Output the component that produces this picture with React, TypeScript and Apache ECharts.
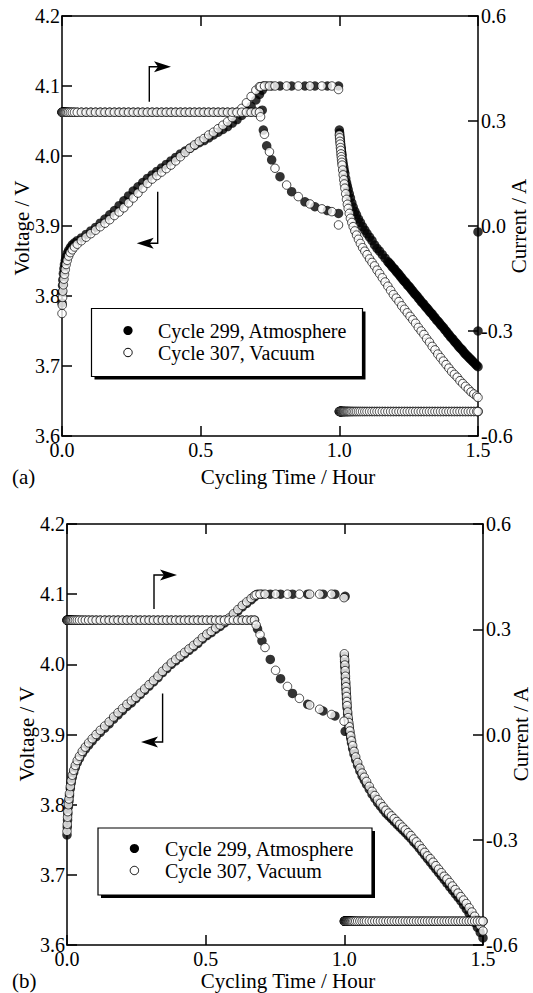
import React, { useEffect, useRef } from "react";
import * as echarts from "echarts";

// ---------- Panel (a) ----------
const tChargeA = [0,0.001,0.002,0.003,0.005,0.007,0.009,0.012,0.015,0.019,0.024,0.03,0.037,0.045,0.055,0.07,0.087,0.104,0.121,0.138,0.155,0.172,0.189,0.206,0.223,0.24,0.257,0.274,0.291,0.308,0.325,0.342,0.359,0.376,0.393,0.41,0.427,0.444,0.461,0.478,0.495,0.512,0.529,0.546,0.563,0.58,0.597,0.614,0.631,0.648,0.665,0.682,0.699,0.712];
const vChargeVacA = [3.775,3.787,3.798,3.807,3.816,3.824,3.831,3.838,3.845,3.851,3.857,3.862,3.866,3.870,3.874,3.879,3.884,3.889,3.894,3.899,3.904,3.909,3.915,3.920,3.926,3.933,3.940,3.947,3.954,3.961,3.967,3.972,3.977,3.982,3.987,3.993,3.999,4.005,4.011,4.016,4.021,4.025,4.030,4.034,4.039,4.044,4.049,4.055,4.061,4.068,4.076,4.085,4.094,4.099];
const vChargeAtmA = [3.79,3.805,3.815,3.823,3.832,3.839,3.845,3.851,3.856,3.861,3.865,3.869,3.873,3.876,3.879,3.883,3.888,3.893,3.898,3.904,3.910,3.916,3.922,3.929,3.936,3.943,3.950,3.956,3.962,3.968,3.973,3.978,3.983,3.988,3.993,3.998,4.003,4.007,4.011,4.015,4.019,4.022,4.026,4.030,4.034,4.038,4.042,4.047,4.052,4.058,4.064,4.071,4.080,4.088];
const iChargeA = [0.325,0.325,0.325,0.325,0.325,0.325,0.325,0.325,0.325,0.325,0.325,0.325,0.325,0.325,0.325,0.325,0.325,0.325,0.325,0.325,0.325,0.325,0.325,0.325,0.325,0.325,0.325,0.325,0.325,0.325,0.325,0.325,0.325,0.325,0.325,0.325,0.325,0.325,0.325,0.325,0.325,0.325,0.325,0.325,0.325,0.325,0.325,0.325,0.325,0.325,0.325,0.325,0.325,0.325];

const tCvVacA = [0.716,0.73,0.748,0.768,0.81,0.852,0.894,0.937,0.973,0.997];
const vCvVacA = [4.099,4.1,4.1,4.1,4.1,4.1,4.1,4.1,4.1,4.095];
const iCvVacA = [0.312,0.262,0.212,0.165,0.117,0.084,0.063,0.049,0.041,0.003];
const tCvAtmA = [0.722,0.726,0.738,0.756,0.786,0.828,0.876,0.912,0.957,0.997];
const vCvAtmA = [4.094,4.1,4.1,4.1,4.1,4.1,4.1,4.1,4.1,4.1];
const iCvAtmA = [0.331,0.274,0.229,0.189,0.141,0.098,0.069,0.055,0.044,0.036];

const tDisA = [1.000,1.001,1.002,1.003,1.004,1.005,1.006,1.007,1.008,1.009,
  1.010,1.012,1.014,1.016,1.018,1.020,1.023,1.026,1.029,1.032,
  1.036,1.040,1.045,1.050,1.056,1.062,1.069,1.076,1.084,1.092,
  1.100,1.109,1.118,1.127,1.136,1.145,1.155,1.165,1.175,1.185,
  1.195,1.205,1.215,1.225,1.235,1.245,1.255,1.265,1.275,1.285,
  1.295,1.305,1.315,1.325,1.335,1.345,1.355,1.365,1.375,1.385,
  1.395,1.405,1.415,1.425,1.435,1.445,1.455,1.465,1.475,1.485,
  1.495,1.500];
const vDisVacA = [4.030,4.026,4.021,4.017,4.012,4.008,4.003,3.999,3.995,3.991,
  3.987,3.980,3.973,3.966,3.960,3.954,3.946,3.938,3.931,3.925,
  3.918,3.911,3.905,3.899,3.893,3.887,3.881,3.875,3.869,3.864,
  3.859,3.853,3.848,3.843,3.837,3.832,3.826,3.820,3.814,3.808,
  3.802,3.797,3.792,3.786,3.781,3.776,3.771,3.766,3.761,3.755,
  3.750,3.745,3.739,3.734,3.728,3.723,3.717,3.712,3.707,3.702,
  3.697,3.692,3.688,3.684,3.679,3.675,3.671,3.667,3.663,3.660,
  3.657,3.655];
const iDisA = [-0.53,-0.53,-0.53,-0.53,-0.53,-0.53,-0.53,-0.53,-0.53,-0.53,
  -0.53,-0.53,-0.53,-0.53,-0.53,-0.53,-0.53,-0.53,-0.53,-0.53,
  -0.53,-0.53,-0.53,-0.53,-0.53,-0.53,-0.53,-0.53,-0.53,-0.53,
  -0.53,-0.53,-0.53,-0.53,-0.53,-0.53,-0.53,-0.53,-0.53,-0.53,
  -0.53,-0.53,-0.53,-0.53,-0.53,-0.53,-0.53,-0.53,-0.53,-0.53,
  -0.53,-0.53,-0.53,-0.53,-0.53,-0.53,-0.53,-0.53,-0.53,-0.53,
  -0.53,-0.53,-0.53,-0.53,-0.53,-0.53,-0.53,-0.53,-0.53,-0.53,
  -0.53,-0.53];
// Atmosphere discharge voltage (denser records, drawn as a solid band)
const tDisAtmA = [1.000,1.001,1.002,1.003,1.004,1.005,1.006,1.007,1.008,1.009,
  1.010,1.012,1.014,1.016,1.018,1.020,1.023,1.026,1.029,1.032,
  1.036,1.040,1.045,1.050,1.056,1.062,1.069,1.076,1.084,1.092,
  1.100,1.109,1.118,1.127,1.136,1.145,1.155,1.165,1.175,
  1.180,1.185,1.190,1.195,1.200,1.205,1.210,1.215,1.220,1.225,
  1.230,1.235,1.240,1.245,1.250,1.255,1.260,1.265,1.270,1.275,
  1.280,1.285,1.290,1.295,1.300,1.305,1.310,1.315,1.320,1.325,
  1.330,1.335,1.340,1.345,1.350,1.355,1.360,1.365,1.370,1.375,
  1.380,1.385,1.390,1.395,1.400,1.405,1.410,1.415,1.420,1.425,
  1.430,1.435,1.440,1.445,1.450,1.455,1.460,1.465,1.470,1.475,
  1.480,1.485,1.490,1.495,1.500];
const vDisAtmA = [4.037,4.033,4.029,4.025,4.021,4.017,4.013,4.010,4.006,4.003,
  4.000,3.994,3.989,3.984,3.979,3.975,3.968,3.962,3.957,3.952,
  3.946,3.940,3.933,3.927,3.921,3.916,3.910,3.905,3.899,3.894,
  3.889,3.884,3.879,3.873,3.868,3.864,3.859,3.854,3.849,
  3.847,3.845,3.842,3.840,3.838,3.835,3.833,3.831,3.828,3.826,
  3.823,3.821,3.819,3.816,3.814,3.812,3.809,3.807,3.804,3.802,
  3.800,3.797,3.795,3.792,3.790,3.788,3.785,3.783,3.781,3.778,
  3.776,3.774,3.771,3.769,3.766,3.764,3.762,3.759,3.757,3.755,
  3.752,3.750,3.747,3.745,3.742,3.740,3.738,3.735,3.733,3.731,
  3.728,3.726,3.724,3.722,3.719,3.717,3.715,3.713,3.711,3.709,
  3.707,3.705,3.703,3.701,3.699];
const strayTimesA = [1.5, 1.5];
const strayCurrentsA = [-0.017, -0.3];

// ---------- Panel (b) ----------
const tChargeB = [0,0.001,0.002,0.003,0.005,0.007,0.009,0.012,0.015,0.019,0.024,0.03,0.037,0.045,0.055,0.066,0.078,0.091,0.105,0.12,0.136,0.152,0.168,0.184,0.2,0.216,0.232,0.248,0.264,0.28,0.296,0.312,0.328,0.344,0.36,0.376,0.392,0.408,0.424,0.44,0.456,0.472,0.488,0.504,0.52,0.536,0.552,0.568,0.584,0.6,0.616,0.632,0.648,0.664,0.676];
const vChargeVacB = [3.762,3.772,3.782,3.790,3.800,3.808,3.816,3.826,3.834,3.842,3.849,3.856,3.863,3.869,3.876,3.882,3.888,3.894,3.900,3.906,3.912,3.918,3.925,3.931,3.937,3.943,3.948,3.953,3.959,3.965,3.971,3.977,3.983,3.990,3.996,4.002,4.007,4.012,4.017,4.022,4.027,4.032,4.038,4.043,4.047,4.052,4.056,4.061,4.066,4.072,4.078,4.084,4.089,4.094,4.098];
const vChargeAtmB = [3.757,3.768,3.778,3.787,3.797,3.805,3.813,3.823,3.831,3.839,3.846,3.853,3.860,3.866,3.873,3.879,3.885,3.891,3.897,3.903,3.909,3.915,3.922,3.928,3.934,3.940,3.945,3.951,3.957,3.963,3.969,3.975,3.981,3.988,3.994,4.000,4.005,4.010,4.015,4.020,4.025,4.030,4.036,4.041,4.045,4.050,4.054,4.059,4.064,4.070,4.076,4.082,4.087,4.092,4.096];
const iChargeB = [0.326,0.326,0.326,0.326,0.326,0.326,0.326,0.326,0.326,0.326,0.326,0.326,0.326,0.326,0.326,0.326,0.326,0.326,0.326,0.326,0.326,0.326,0.326,0.326,0.326,0.326,0.326,0.326,0.326,0.326,0.326,0.326,0.326,0.326,0.326,0.326,0.326,0.326,0.326,0.326,0.326,0.326,0.326,0.326,0.326,0.326,0.326,0.326,0.326,0.326,0.326,0.326,0.326,0.326,0.326];

const tCvVacB = [0.682,0.696,0.714,0.752,0.795,0.838,0.875,0.911,0.954,0.999];
const vCvVacB = [4.099,4.1,4.1,4.1,4.1,4.1,4.1,4.1,4.1,4.095];
const iCvVacB = [0.312,0.285,0.248,0.183,0.137,0.103,0.084,0.072,0.057,0.038];
const tCvAtmB = [0.687,0.703,0.733,0.77,0.813,0.868,0.923,0.966,1.003];
const vCvAtmB = [4.1,4.1,4.1,4.1,4.1,4.1,4.1,4.1,4.097];
const iCvAtmB = [0.301,0.267,0.214,0.159,0.117,0.086,0.067,0.053,0.009];

const tDisB = [1.000,1.001,1.002,1.003,1.004,1.005,1.006,1.007,1.008,1.009,
  1.010,1.012,1.014,1.016,1.018,1.020,1.023,1.026,1.030,1.035,
  1.041,1.048,1.056,1.064,1.072,1.080,1.090,1.100,1.110,1.120,
  1.130,1.140,1.150,1.160,1.170,1.180,1.190,1.200,1.210,1.220,
  1.230,1.240,1.250,1.260,1.270,1.280,1.290,1.300,1.310,1.320,
  1.330,1.340,1.350,1.360,1.370,1.380,1.390,1.400,1.410,1.420,
  1.430,1.440,1.450,1.460,1.470,1.480,1.490,1.500];
const vDisVacB = [4.015,4.007,3.999,3.991,3.983,3.975,3.968,3.961,3.954,3.947,
  3.941,3.932,3.924,3.917,3.911,3.905,3.898,3.891,3.884,3.876,
  3.868,3.860,3.852,3.845,3.839,3.833,3.826,3.819,3.813,3.807,
  3.802,3.797,3.792,3.788,3.784,3.780,3.776,3.772,3.768,3.764,
  3.760,3.756,3.751,3.747,3.742,3.737,3.732,3.727,3.723,3.718,
  3.713,3.708,3.703,3.698,3.694,3.689,3.684,3.679,3.674,3.669,
  3.664,3.659,3.653,3.647,3.641,3.635,3.628,3.620];
const vDisAtmB = [4.012,4.004,3.996,3.988,3.980,3.972,3.965,3.958,3.951,3.944,
  3.938,3.929,3.921,3.914,3.908,3.902,3.895,3.888,3.880,3.872,
  3.864,3.856,3.848,3.841,3.835,3.829,3.822,3.815,3.809,3.803,
  3.798,3.793,3.788,3.784,3.780,3.776,3.772,3.768,3.764,3.760,
  3.756,3.752,3.747,3.743,3.738,3.733,3.728,3.723,3.718,3.713,
  3.708,3.703,3.698,3.693,3.688,3.683,3.678,3.673,3.668,3.663,
  3.657,3.651,3.645,3.639,3.632,3.625,3.618,3.610];
const iDisB = [-0.532,-0.532,-0.532,-0.532,-0.532,-0.532,-0.532,-0.532,-0.532,-0.532,
  -0.532,-0.532,-0.532,-0.532,-0.532,-0.532,-0.532,-0.532,-0.532,-0.532,
  -0.532,-0.532,-0.532,-0.532,-0.532,-0.532,-0.532,-0.532,-0.532,-0.532,
  -0.532,-0.532,-0.532,-0.532,-0.532,-0.532,-0.532,-0.532,-0.532,-0.532,
  -0.532,-0.532,-0.532,-0.532,-0.532,-0.532,-0.532,-0.532,-0.532,-0.532,
  -0.532,-0.532,-0.532,-0.532,-0.532,-0.532,-0.532,-0.532,-0.532,-0.532,
  -0.532,-0.532,-0.532,-0.532,-0.532,-0.532,-0.532,-0.532];

const legendLabels = ["Cycle 299, Atmosphere", "Cycle 307, Vacuum"];
const xTitle = "Cycling Time / Hour";
const yLeftTitle = "Voltage / V";
const yRightTitle = "Current / A";
const panelTags = ["(a)", "(b)"];

const FONT = '"Liberation Serif", "Times New Roman", serif';

function zip(t: number[], v: number[]) {
  return t.map((x, i) => [x, v[i]]);
}

const fmt = (v: number) => (Math.abs(v) < 1e-9 ? 0 : v).toFixed(1);

function axisBase(extra: any) {
  return {
    axisLine: { show: true, onZero: false, lineStyle: { color: "#000", width: 1.5 } },
    axisTick: { show: true, inside: true, length: 10, lineStyle: { color: "#000", width: 1.5 } },
    splitLine: { show: false },
    ...extra,
  };
}

function label(margin: number) {
  return {
    show: true,
    color: "#000",
    fontFamily: FONT,
    fontSize: 20,
    margin,
    formatter: fmt,
    showMinLabel: true,
    showMaxLabel: true,
  };
}

function arrowRight(x: number, yBottom: number, yTop: number, tipX: number) {
  return [
    { type: "polyline", shape: { points: [[x, yBottom], [x, yTop], [tipX - 10, yTop]] }, style: { stroke: "#000", lineWidth: 1.4, fill: null } },
    { type: "polygon", shape: { points: [[tipX, yTop], [tipX - 17, yTop - 5.5], [tipX - 13, yTop], [tipX - 17, yTop + 5.5]] }, style: { fill: "#000" } },
  ];
}
function arrowLeft(x: number, yTop: number, yBottom: number, tipX: number) {
  return [
    { type: "polyline", shape: { points: [[x, yTop], [x, yBottom], [tipX + 10, yBottom]] }, style: { stroke: "#000", lineWidth: 1.4, fill: null } },
    { type: "polygon", shape: { points: [[tipX, yBottom], [tipX + 17, yBottom - 5.5], [tipX + 13, yBottom], [tipX + 17, yBottom + 5.5]] }, style: { fill: "#000" } },
  ];
}

function txt(text: string, x: number, y: number, size: number, align: string, rotation = 0) {
  return {
    type: "text",
    x,
    y,
    rotation,
    style: {
      text,
      font: `${size}px ${FONT}`,
      fill: "#000",
      align,
      verticalAlign: "middle",
      textAlign: align,
      textVerticalAlign: "middle",
    },
  };
}

function legend(x: number, y: number, w: number, h: number, row1: number, row2: number, cx: number, tx: number) {
  return [
    { type: "rect", shape: { x: x + 3, y: y + 3, width: w, height: h }, style: { fill: "#000" } },
    { type: "rect", shape: { x, y, width: w, height: h }, style: { fill: "#fff", stroke: "#000", lineWidth: 1.2 } },
    { type: "circle", shape: { cx, cy: row1, r: 4.6 }, style: { fill: "#000" } },
    txt(legendLabels[0], tx, row1, 20, "left"),
    { type: "circle", shape: { cx, cy: row2, r: 4.2 }, style: { fill: "#fff", stroke: "#000", lineWidth: 1 } },
    txt(legendLabels[1], tx, row2, 20, "left"),
  ];
}

function scatter(xi: number, yi: number, data: number[][], filled: boolean) {
  return {
    type: "scatter",
    xAxisIndex: xi,
    yAxisIndex: yi,
    data,
    symbol: "circle",
    symbolSize: filled ? 9.5 : 8.5,
    clip: false,
    silent: true,
    z: filled ? 2 : 3,
    itemStyle: filled
      ? { color: "#000" }
      : { color: "#fff", borderColor: "#000", borderWidth: 0.9 },
  };
}

export default function App() {
  const ref = useRef<HTMLDivElement>(null);
  useEffect(() => {
    if (!ref.current) return;
    const chart = echarts.init(ref.current, null, { renderer: "svg" });

    const grids = [
      { left: 62, top: 16, width: 416, height: 420 },
      { left: 67, top: 524, width: 416, height: 421 },
    ];
    const xAxis: any[] = [];
    const yAxis: any[] = [];
    grids.forEach((_, g) => {
      xAxis.push(axisBase({ type: "value", gridIndex: g, min: 0, max: 1.5, interval: 0.5, position: "bottom", axisLabel: label(4) }));
      xAxis.push(axisBase({ type: "value", gridIndex: g, min: 0, max: 1.5, interval: 0.5, position: "top", axisLabel: { show: false } }));
      yAxis.push(axisBase({ type: "value", gridIndex: g, min: 3.6, max: 4.2, interval: 0.1, position: "left", axisLabel: label(2) }));
      yAxis.push(axisBase({ type: "value", gridIndex: g, min: -0.6, max: 0.6, interval: 0.3, position: "right", axisLabel: label(3) }));
    });

    const atmVA = [...zip(tChargeA, vChargeAtmA), ...zip(tCvAtmA, vCvAtmA), ...zip(tDisAtmA, vDisAtmA)];
    const atmIA = [...zip(tChargeA, iChargeA), ...zip(tCvAtmA, iCvAtmA), ...zip(tDisA, iDisA), ...zip(strayTimesA, strayCurrentsA)];
    const vacVA = [...zip(tChargeA, vChargeVacA), ...zip(tCvVacA, vCvVacA), ...zip(tDisA, vDisVacA)];
    const vacIA = [...zip(tChargeA, iChargeA), ...zip(tCvVacA, iCvVacA), ...zip(tDisA, iDisA)];

    const atmVB = [...zip(tChargeB, vChargeAtmB), ...zip(tCvAtmB, vCvAtmB), ...zip(tDisB, vDisAtmB)];
    const atmIB = [...zip(tChargeB, iChargeB), ...zip(tCvAtmB, iCvAtmB), ...zip(tDisB, iDisB)];
    const vacVB = [...zip(tChargeB, vChargeVacB), ...zip(tCvVacB, vCvVacB), ...zip(tDisB, vDisVacB)];
    const vacIB = [...zip(tChargeB, iChargeB), ...zip(tCvVacB, iCvVacB), ...zip(tDisB, iDisB)];

    const series = [
      scatter(0, 0, atmVA, true),
      scatter(0, 1, atmIA, true),
      scatter(0, 0, vacVA, false),
      scatter(0, 1, vacIA, false),
      scatter(2, 2, atmVB, true),
      scatter(2, 3, atmIB, true),
      scatter(2, 2, vacVB, false),
      scatter(2, 3, vacIB, false),
    ];

    const graphic: any[] = [
      txt(yLeftTitle, 22, 228, 21, "center", Math.PI / 2),
      txt(yRightTitle, 519, 226, 21, "center", Math.PI / 2),
      txt(xTitle, 288, 477, 21, "center"),
      txt(panelTags[0], 12, 477, 21, "left"),
      ...legend(91.5, 308.5, 271, 68, 330.5, 352.5, 128, 158),
      ...arrowRight(149.3, 101.7, 66.7, 171),
      ...arrowLeft(157.7, 191.7, 243.3, 136.7),

      txt(yLeftTitle, 27, 734, 21, "center", Math.PI / 2),
      txt(yRightTitle, 521, 734, 21, "center", Math.PI / 2),
      txt(xTitle, 288, 981, 21, "center"),
      txt(panelTags[1], 12, 981, 21, "left"),
      ...legend(98, 828, 274, 67, 848.5, 870.5, 134.4, 165),
      ...arrowRight(154, 609, 575, 177),
      ...arrowLeft(162.6, 693.4, 742, 141),
    ];

    chart.setOption({
      animation: false,
      backgroundColor: "#fff",
      grid: grids,
      xAxis,
      yAxis,
      series,
      graphic: { elements: graphic },
    });
    return () => chart.dispose();
  }, []);
  return <div ref={ref} style={{ position: "absolute", left: 0, top: 0, width: 533, height: 993 }} />;
}
